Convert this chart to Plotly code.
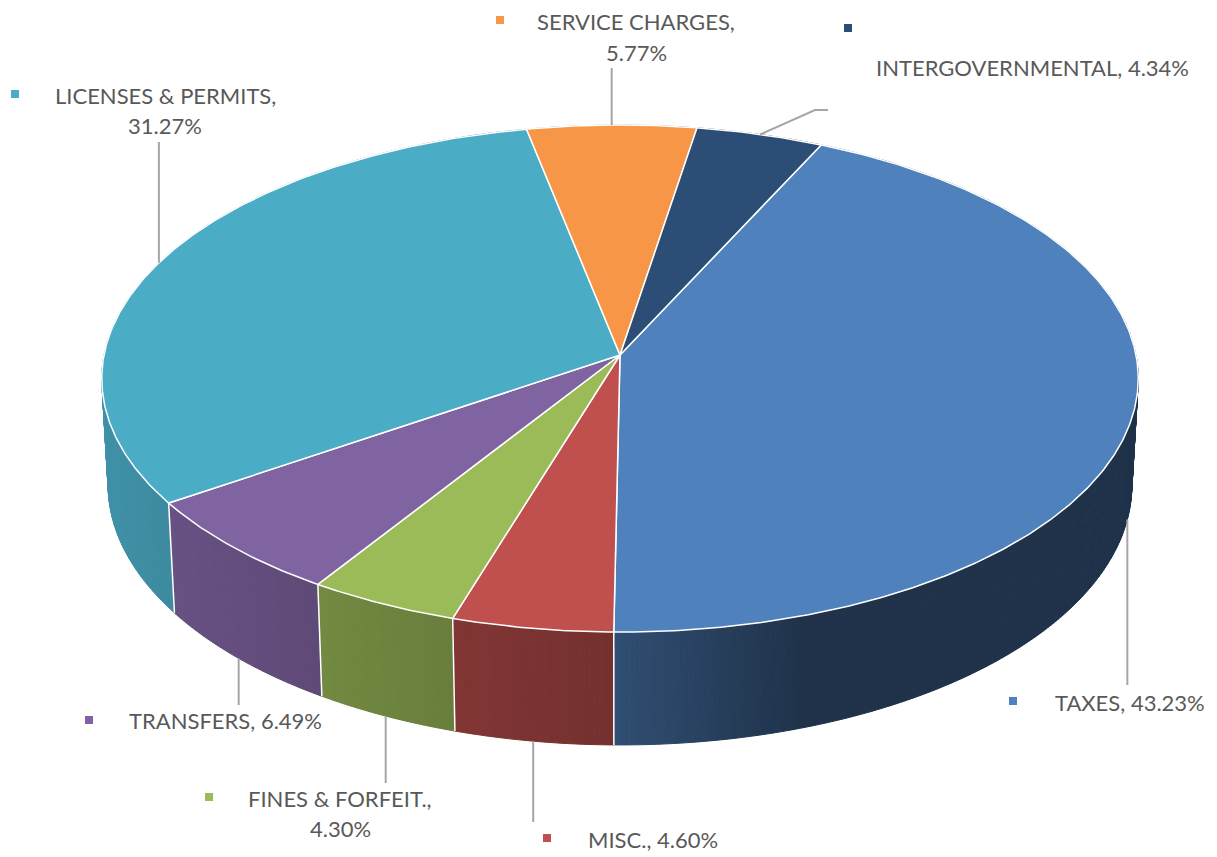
import numpy as np
import plotly.graph_objects as go

# ---------------- data ----------------
categories = ["TAXES", "MISC.", "FINES & FORFEIT.", "TRANSFERS",
              "LICENSES & PERMITS", "SERVICE CHARGES", "INTERGOVERNMENTAL"]
shares = [43.23, 4.60, 4.30, 6.49, 31.27, 5.77, 4.34]

# ---------------- styles ----------------
slice_colors = ["#4F81BD", "#C0504D", "#9BBB59", "#8064A2",
                "#4BACC6", "#F79646", "#2C4D75"]
TEXT_COLOR = "#595959"
LEADER_COLOR = "#A6A6A6"
FONT = "Lato, 'Open Sans', sans-serif"
FONT_SIZE = 22

W, H = 1217, 857
# 3D projection parameters (pixels)
CX, CY = 620.0, 355.0
K = 516.0
DIST = 9.41
ELEV = np.arcsin(0.487)
THICK = 0.238
FIRST_ANGLE = 25.0  # degrees, clockwise from 12 o'clock

# label layout: key marker position, text lines (x, y, anchor), leader route
label_layout = {
    "TAXES": dict(key=(1013, 701), lines=[(1053, 702, "left")], wrap=False,
                  leader=[(None, 685)]),
    "MISC.": dict(key=(547, 838), lines=[(586, 839, "left")], wrap=False,
                  leader=[(None, 822)]),
    "FINES & FORFEIT.": dict(key=(209, 797), lines=[(340, 798, "center"), (340, 828, "center")],
                             wrap=True, leader=[(None, 783)]),
    "TRANSFERS": dict(key=(89, 720), lines=[(127, 720, "left")], wrap=False,
                      leader=[(None, 705)]),
    "LICENSES & PERMITS": dict(key=(15, 94), lines=[(165, 95, "center"), (165, 125, "center")],
                               wrap=True, leader=[(None, 142)]),
    "SERVICE CHARGES": dict(key=(500, 20), lines=[(636, 21, "center"), (636, 52, "center")],
                            wrap=True, leader=[(None, 68)]),
    "INTERGOVERNMENTAL": dict(key=(848, 28), lines=[(874, 67, "left")], wrap=False,
                              leader=[(815, 110), (828, 110)]),
}


def proj(theta_deg, z):
    th = np.radians(theta_deg)
    X = np.sin(th)
    Y = np.cos(th)
    v = Y * np.sin(ELEV) + z * np.cos(ELEV)
    w = Y * np.cos(ELEV) - z * np.sin(ELEV)
    f = DIST / (DIST + w)
    return CX + K * X * f, CY - K * v * f


def shade(hex_color, factor):
    h = hex_color.lstrip("#")
    r, g, b = (int(h[i:i + 2], 16) for i in (0, 2, 4))
    r, g, b = (max(0, min(255, int(round(c * factor)))) for c in (r, g, b))
    return f"rgb({r},{g},{b})"


def wall_factor(theta_deg):
    s = np.sin(np.radians(theta_deg))
    if s < 0:
        return 0.60 - 0.25 * s
    return max(0.39, 0.60 - 0.65 * s)


total = sum(shares)
bounds = FIRST_ANGLE + np.cumsum([0] + shares) / total * 360.0

fig = go.Figure()

# ---- outer walls (strips for shading), drawn far-to-near ----
strips = []
for i, col in enumerate(slice_colors):
    a0, a1 = bounds[i], bounds[i + 1]
    # finer strips on the visible front part, coarse on the hidden back part
    edges = [a0]
    while edges[-1] < a1 - 1e-9:
        cur = edges[-1]
        step = 0.5 if np.cos(np.radians(cur)) < 0 else 3.0
        edges.append(min(a1, cur + step))
    for e0, e1 in zip(edges[:-1], edges[1:]):
        th = np.linspace(e0, e1, 4)
        tx, ty = proj(th, 0.0)
        bx, by = proj(th[::-1], -THICK)
        mid = 0.5 * (e0 + e1)
        depth = np.cos(np.radians(mid))
        strips.append((depth, np.concatenate([tx, bx, tx[:1]]),
                       np.concatenate([ty, by, ty[:1]]),
                       shade(col, wall_factor(mid))))
strips.sort(key=lambda s: -s[0])
for _, xs, ys, c in strips:
    fig.add_trace(go.Scatter(x=xs, y=ys, mode="lines", fill="toself",
                             fillcolor=c, line=dict(color=c, width=1),
                             hoverinfo="skip", showlegend=False))

# white edges between visible wall segments
for a in bounds[:-1]:
    if np.cos(np.radians(a)) < -0.09:
        x0, y0 = proj(a, 0.0)
        x1, y1 = proj(a, -THICK)
        fig.add_trace(go.Scatter(x=[x0, x1], y=[y0, y1], mode="lines",
                                 line=dict(color="white", width=1.5),
                                 hoverinfo="skip", showlegend=False))

# ---- top faces ----
for i, col in enumerate(slice_colors):
    a0, a1 = bounds[i], bounds[i + 1]
    th = np.linspace(a0, a1, max(8, int((a1 - a0) * 2)))
    tx, ty = proj(th, 0.0)
    xs = np.concatenate([[CX], tx, [CX]])
    ys = np.concatenate([[CY], ty, [CY]])
    fig.add_trace(go.Scatter(x=xs, y=ys, mode="lines", fill="toself",
                             fillcolor=col, line=dict(color="white", width=1.5),
                             hoverinfo="skip", showlegend=False))

# ---- leader lines ----
for i, cat in enumerate(categories):
    mid = 0.5 * (bounds[i] + bounds[i + 1])
    z = -THICK if np.cos(np.radians(mid)) < -0.09 else 0.0
    sx, sy = proj(mid, z)
    xs, ys = [sx], [sy]
    for px, py in label_layout[cat]["leader"]:
        xs.append(sx if px is None else px)
        ys.append(py)
    fig.add_trace(go.Scatter(x=xs, y=ys, mode="lines",
                             line=dict(color=LEADER_COLOR, width=2),
                             hoverinfo="skip", showlegend=False))

# ---- legend keys ----
fig.add_trace(go.Scatter(
    x=[label_layout[c]["key"][0] for c in categories],
    y=[label_layout[c]["key"][1] for c in categories],
    mode="markers",
    marker=dict(symbol="square", size=8, color=slice_colors, line=dict(width=0)),
    hoverinfo="skip", showlegend=False))

# ---- label texts ----
annotations = []
for cat, val in zip(categories, shares):
    lay = label_layout[cat]
    pct = f"{val:.2f}%"
    texts = [f"{cat},", pct] if lay["wrap"] else [f"{cat}, {pct}"]
    for (lx, ly, anc), t in zip(lay["lines"], texts):
        annotations.append(dict(x=lx, y=ly, xref="x", yref="y", text=t,
                                showarrow=False, xanchor=anc, yanchor="middle",
                                font=dict(family=FONT, size=FONT_SIZE, color=TEXT_COLOR)))

fig.update_layout(
    width=W, height=H,
    margin=dict(l=0, r=0, t=0, b=0),
    paper_bgcolor="white", plot_bgcolor="white",
    xaxis=dict(range=[0, W], visible=False, fixedrange=True),
    yaxis=dict(range=[H, 0], visible=False, fixedrange=True),
    annotations=annotations,
    showlegend=False,
)

fig.write_html("out.html")
